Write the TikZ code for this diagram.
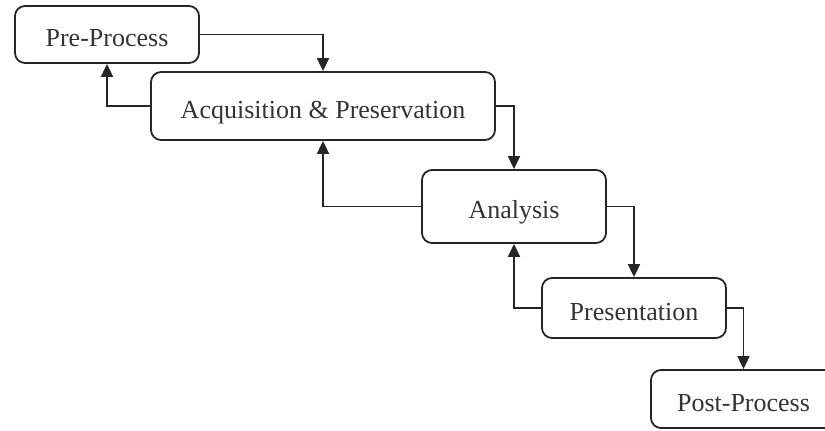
\documentclass[tikz,border=0pt]{standalone}
\usepackage{fontspec}
\setmainfont{Liberation Serif}
\usetikzlibrary{arrows.meta}
\begin{document}
\begin{tikzpicture}[x=1pt,y=-1pt,
  stage/.style={draw=black!85, line width=1.8pt, rounded corners=10pt, inner sep=0pt,
    text height=24pt, text depth=0pt,
    font=\fontsize{26}{30}\selectfont, text=black!80},
  flow/.style={draw=black!85, line width=1.8pt, -{Triangle[width=12pt,length=13pt]}}]
\useasboundingbox (0,0) rectangle (825,431);
\clip (0,0) rectangle (825,431);
\node[stage, minimum width=184pt, minimum height=57pt] (pre) at (107,34.5) {Pre-Process};
\node[stage, minimum width=344pt, minimum height=68pt] (acq) at (323,106) {Acquisition \& Preservation};
\node[stage, minimum width=184pt, minimum height=73pt] (ana) at (514,206.5) {Analysis};
\node[stage, minimum width=184pt, minimum height=60pt] (pres) at (634,308) {Presentation};
\node[stage, minimum width=185pt, minimum height=58pt] (post) at (743.5,399) {Post-Process};
\draw[flow] (pre.east) -| (acq.north);
\draw[flow] (acq.west) -| (pre.south);
\draw[flow] (acq.east) -| (ana.north);
\draw[flow] (ana.west) -| (acq.south);
\draw[flow] (ana.east) -| (pres.north);
\draw[flow] (pres.west) -| (ana.south);
\draw[flow] (pres.east) -| (post.north);
\end{tikzpicture}
\end{document}
